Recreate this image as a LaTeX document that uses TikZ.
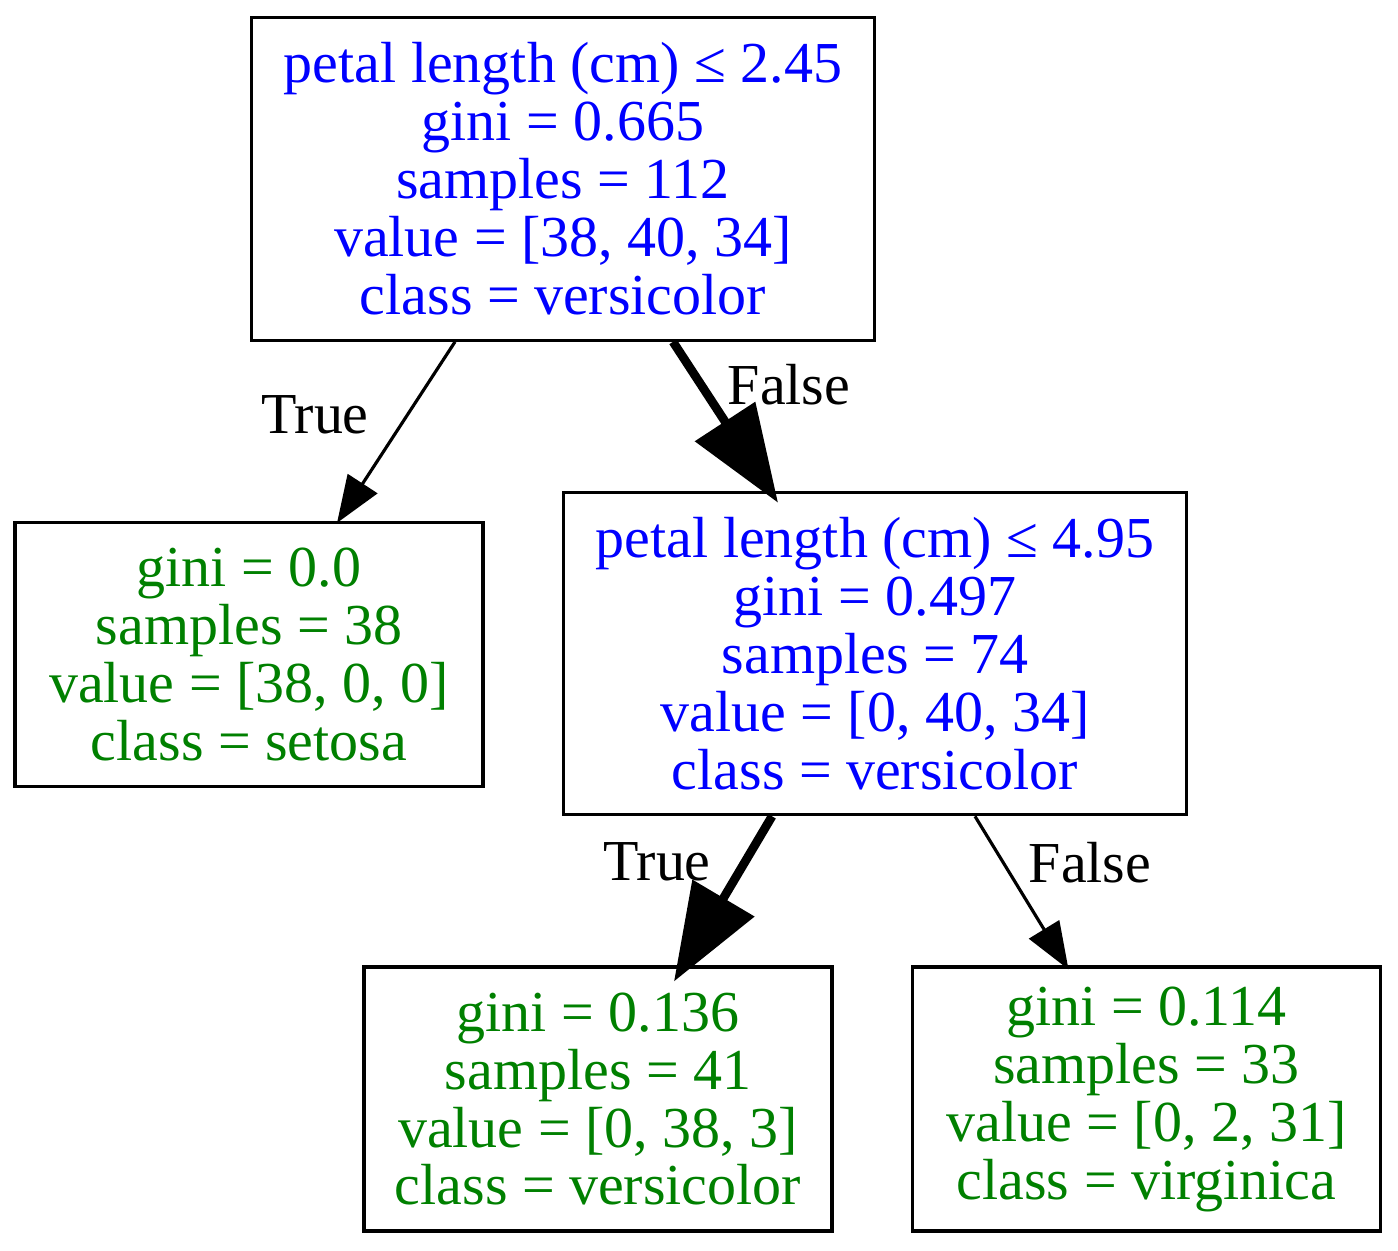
\documentclass[tikz,border=0pt]{standalone}
\usepackage{fontspec}
\setmainfont{Liberation Serif}
\usetikzlibrary{arrows.meta,calc}
\definecolor{splitblue}{RGB}{0,0,255}
\definecolor{leafgreen}{RGB}{0,128,0}

\begin{document}
\begin{tikzpicture}[x=0.02cm, y=-0.02cm]
\tikzstyle{box} = [rectangle, draw=black, line width=1.8pt, align=center, inner sep=0pt, font=\fontsize{33}{33}\selectfont]
\tikzstyle{split} = [box, text=splitblue, minimum width=12.46cm, minimum height=6.45cm]
\tikzstyle{leaf} = [box, text=leafgreen, minimum width=9.36cm, minimum height=5.28cm]
\tikzstyle{lbl} = [anchor=base, inner sep=0pt, font=\fontsize{33}{33}\selectfont]
\tikzstyle{edge} = [-{Triangle[length=0.94cm, width=0.7cm]}, line width=1.8pt]
\tikzstyle{bigedge} = [-{Triangle[length=1.94cm, width=1.4cm]}, line width=5pt]
\useasboundingbox (0,0) rectangle (1398,1250);
\node[split] (n0) at (563, 179) {petal length (cm) ≤ 2.45\\gini = 0.665\\samples = 112\\value = [38, 40, 34]\\class = versicolor};
\node[leaf] (n1) at (249, 654.5) {gini = 0.0\\samples = 38\\value = [38, 0, 0]\\class = setosa};
\node[split] (n2) at (875, 653.5) {petal length (cm) ≤ 4.95\\gini = 0.497\\samples = 74\\value = [0, 40, 34]\\class = versicolor};
\node[leaf] (n3) at (598, 1099) {gini = 0.136\\samples = 41\\value = [0, 38, 3]\\class = versicolor};
\node[leaf] (n4) at (1146.5, 1099) {gini = 0.114\\samples = 33\\value = [0, 2, 31]\\class = virginica};
\node[lbl] (t0) at (315, 433) {True};
\node[lbl] (f0) at (789, 404) {False};
\node[lbl] (t1) at (657, 880) {True};
\node[lbl] (f1) at (1090, 882) {False};
\draw[edge] ($(n0.south)+(-108,0)$) -- ($(n1.north)+(88,2)$);
\draw[bigedge] ($(n0.south)+(110,0)$) -- ($(n2.north)+(-97,12)$);
\draw[bigedge] ($(n2.south)+(-103,0)$) -- ($(n3.north)+(76,16)$);
\draw[edge] ($(n2.south)+(100,0)$) -- ($(n4.north)+(-78,4)$);
\end{tikzpicture}
\end{document}
